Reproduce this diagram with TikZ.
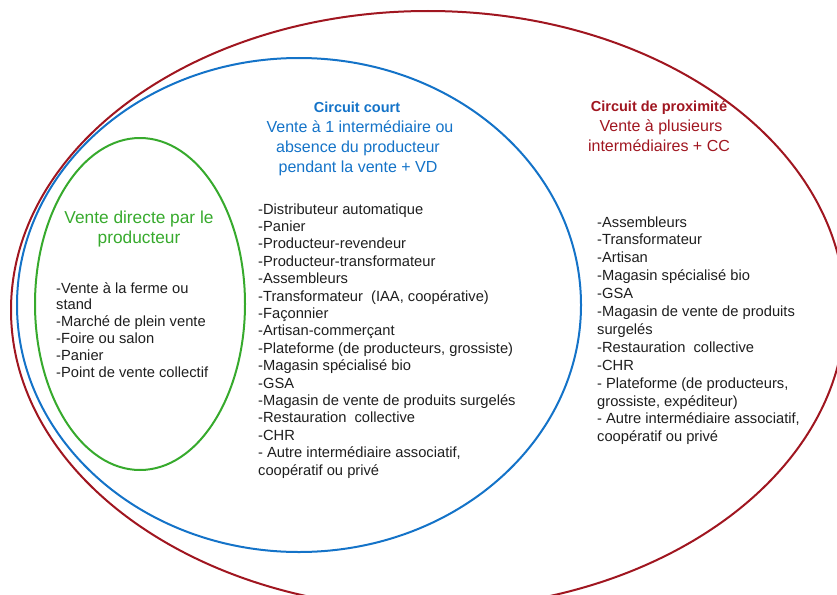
\documentclass[tikz,border=0pt]{standalone}
\usepackage{fontspec}
\setmainfont{Liberation Sans}

\tikzset{
  listitem/.style={anchor=base west, inner sep=0pt, text=ctext, font=\fontsize{14.7}{17}\selectfont},
  subtitle/.style={anchor=base, inner sep=0pt, font=\fontsize{16}{19}\selectfont},
  headline/.style={anchor=base, inner sep=0pt, font=\bfseries\fontsize{14.5}{17}\selectfont},
  ring/.style={line width=2pt},
}

\begin{document}
\begin{tikzpicture}[x=1pt,y=-1pt]
% Colors for each circuit
\definecolor{cprox}{RGB}{160,22,32}
\definecolor{ccourt}{RGB}{20,115,200}
\definecolor{cdirect}{RGB}{55,170,45}
\definecolor{ctext}{RGB}{30,30,30}

\useasboundingbox (0,0) rectangle (837,594);

% Ellipses (outer to inner)
\draw[ring, cprox] (428,310) ellipse [x radius=417, y radius=299];
\draw[ring, ccourt] (299,305) ellipse [x radius=282, y radius=247];
\draw[ring, cdirect] (140,304) ellipse [x radius=105, y radius=166];

% Circuit de proximite: titles
\node[headline, text=cprox] (proxHead) at (659,111) {Circuit de proximité};
\node[subtitle, text=cprox] (proxSub1) at (661,131) {Vente à plusieurs};
\node[subtitle, text=cprox] (proxSub2) at (659,151) {intermédiaires + CC};

% Circuit court: titles
\node[headline, text=ccourt] (courtHead) at (357,112) {Circuit court};
\node[subtitle, text=ccourt] (courtSub1) at (360,132) {Vente à 1 intermédiaire ou};
\node[subtitle, text=ccourt] (courtSub2) at (358,152) {absence du producteur};
\node[subtitle, text=ccourt] (courtSub3) at (358,172) {pendant la vente + VD};

% Vente directe: titles
\node[subtitle, text=cdirect, font=\fontsize{17.3}{20}\selectfont] (directSub1) at (139,223) {Vente directe par le};
\node[subtitle, text=cdirect, font=\fontsize{17.3}{20}\selectfont] (directSub2) at (139,243) {producteur};

% Vente directe: list
\foreach \txt [count=\i] in {-Vente à la ferme ou, stand, -Marché de plein vente,
  -Foire ou salon, -Panier, -Point de vente collectif}
  \node[listitem] (direct\i) at (56, 293+16.8*\i-16.8) {\txt};

% Circuit court: list
\foreach \txt [count=\i] in {-Distributeur automatique, -Panier, -Producteur-revendeur,
  -Producteur-transformateur, -Assembleurs, {-Transformateur\ \ (IAA, coopérative)},
  -Façonnier, -Artisan-commerçant, {-Plateforme (de producteurs, grossiste)},
  -Magasin spécialisé bio, -GSA, -Magasin de vente de produits surgelés,
  -Restauration\ \ collective, -CHR, {- Autre intermédiaire associatif,},
  coopératif ou privé}
  \node[listitem] (court\i) at (258, 214+17.4*\i-17.4) {\txt};

% Circuit de proximite: list
\foreach \txt [count=\i] in {-Assembleurs, -Transformateur, -Artisan,
  -Magasin spécialisé bio, -GSA, -Magasin de vente de produits, surgelés,
  -Restauration\ \ collective, -CHR, {- Plateforme (de producteurs,},
  {grossiste, expéditeur)}, {- Autre intermédiaire associatif,},
  coopératif ou privé}
  \node[listitem] (prox\i) at (597, 227+17.9*\i-17.9) {\txt};

\end{tikzpicture}
\end{document}
